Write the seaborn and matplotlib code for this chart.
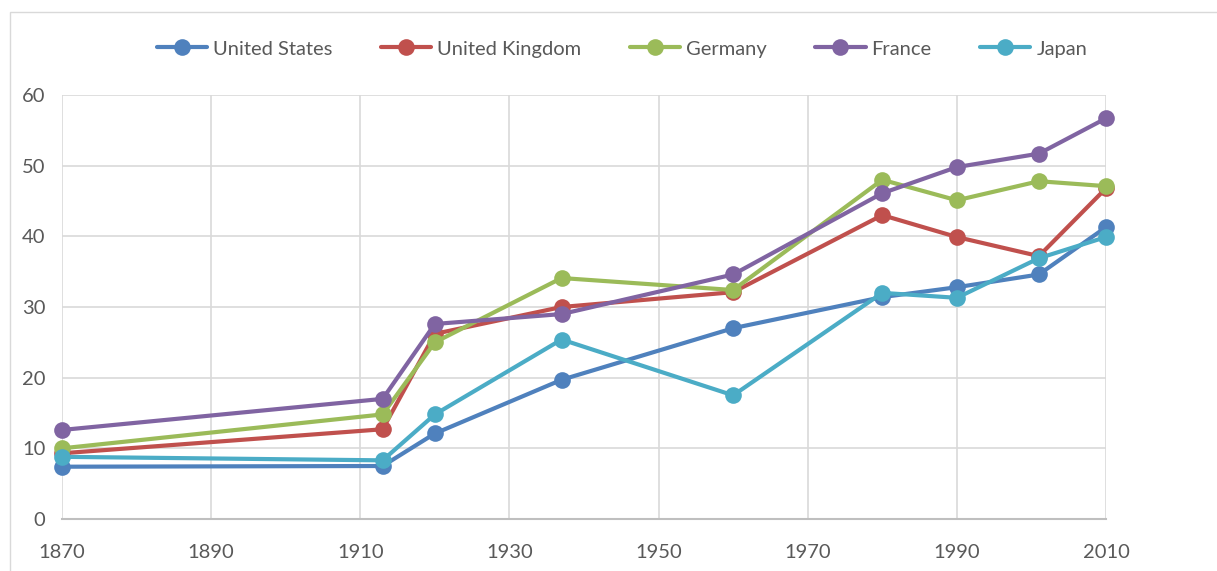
#!/usr/bin/env python3
"""Line chart of five countries over 1870-2010."""

import matplotlib.pyplot as plt
import pandas as pd
import seaborn as sns
from matplotlib.patches import Rectangle

sns.set_style("white")
plt.rcParams["font.family"] = ["Lato", "DejaVu Sans"]

YEARS = [1870, 1913, 1920, 1937, 1960, 1980, 1990, 2001, 2010]
COUNTRIES = ["United States", "United Kingdom", "Germany", "France", "Japan"]
US = [7.4, 7.5, 12.1, 19.7, 27.0, 31.4, 32.8, 34.6, 41.3]
UK = [9.3, 12.7, 26.2, 30.0, 32.1, 43.0, 39.9, 37.2, 46.8]
GERMANY = [10.0, 14.8, 25.0, 34.1, 32.4, 48.0, 45.1, 47.8, 47.1]
FRANCE = [12.6, 17.0, 27.6, 29.0, 34.6, 46.1, 49.8, 51.7, 56.7]
JAPAN = [8.8, 8.3, 14.8, 25.4, 17.5, 32.0, 31.3, 36.9, 39.9]
XTICKS = [1870, 1890, 1910, 1930, 1950, 1970, 1990, 2010]
YTICKS = [0, 10, 20, 30, 40, 50, 60]

COLORS = ["#4F81BD", "#C0504D", "#9BBB59", "#8064A2", "#4BACC6"]


def main():
    series = [US, UK, GERMANY, FRANCE, JAPAN]
    df = pd.concat([pd.DataFrame({"year": YEARS, "value": v, "country": c})
                    for c, v in zip(COUNTRIES, series)])

    fig = plt.figure(figsize=(12.17, 5.71), dpi=100)
    ax = fig.add_axes([62 / 1217, 1 - 519 / 571, 1044 / 1217, 424 / 571])

    sns.lineplot(data=df, x="year", y="value", hue="country",
                 hue_order=COUNTRIES, palette=dict(zip(COUNTRIES, COLORS)),
                 marker="o", markersize=12, markeredgewidth=0,
                 linewidth=3, ax=ax, legend=True)
    for line in ax.lines:
        line.set_clip_on(False)

    ax.set(xlim=(1870, 2010), ylim=(0, 60), xlabel="", ylabel="")
    ax.set_xticks(XTICKS)
    ax.set_yticks(YTICKS)
    ax.grid(True, color="#D9D9D9", linewidth=1.2, zorder=0)
    ax.set_axisbelow(True)
    for side in ["top", "right", "left"]:
        ax.spines[side].set_visible(False)
    ax.spines["bottom"].set_color("#BFBFBF")
    ax.spines["bottom"].set_linewidth(1.5)
    ax.tick_params(axis="both", length=0, labelsize=14.5, colors="#595959")
    ax.tick_params(axis="x", pad=18)
    ax.tick_params(axis="y", pad=12)

    handles, labels = ax.get_legend_handles_labels()
    ax.legend(handles, labels, ncol=5, loc="center",
              bbox_to_anchor=(622 / 1217, 1 - 49 / 571),
              bbox_transform=fig.transFigure, frameon=False,
              fontsize=14.5, handlelength=2.5, columnspacing=2.4,
              handletextpad=0.3, labelcolor="#595959")

    # Chart area border (partly outside the image)
    fig.patches.append(Rectangle((10 / 1217, -0.05), 1.2, 1.05 - 12 / 571,
                                 transform=fig.transFigure, fill=False,
                                 edgecolor="#D9D9D9", linewidth=1))

    fig.savefig("out.png", dpi=100)


if __name__ == '__main__':
    main()
